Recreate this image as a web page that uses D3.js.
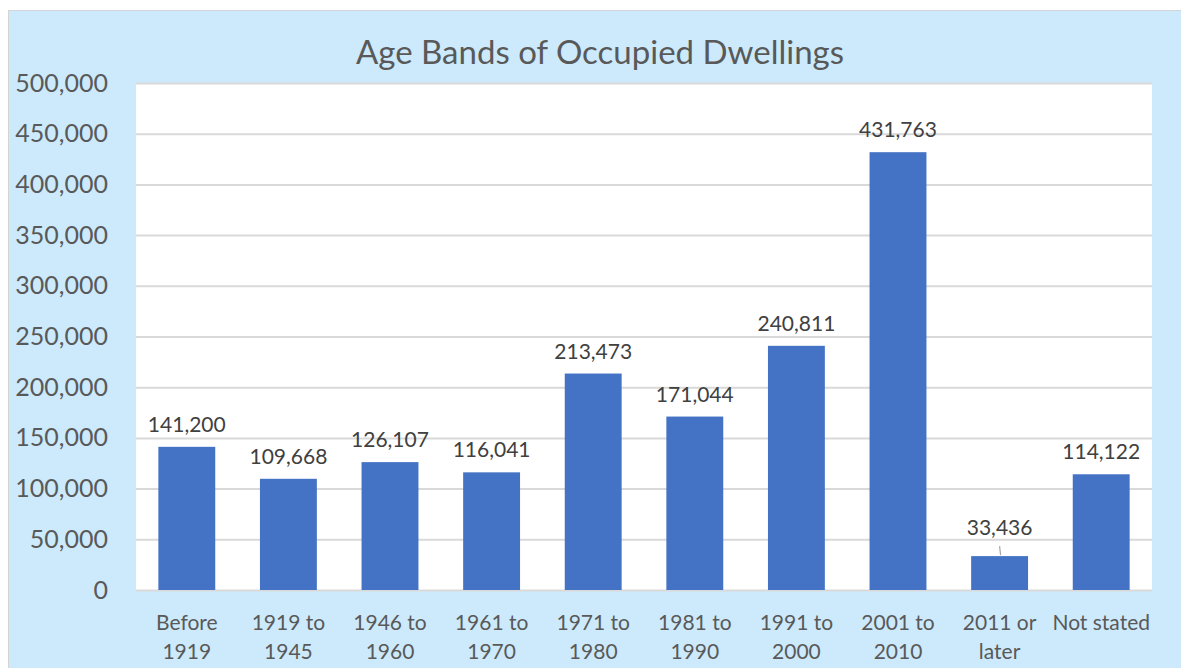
<!DOCTYPE html>
<html>
<head>
<meta charset="utf-8">
<script src="https://cdn.jsdelivr.net/npm/d3@7"></script>
<style>
  body { margin: 0; background: #ffffff; }
  svg { display: block; font-family: Lato, "Open Sans", sans-serif; }
</style>
</head>
<body>
<div id="chart"></div>
<script>
// data
var categories = ["Before 1919", "1919 to 1945", "1946 to 1960", "1961 to 1970", "1971 to 1980",
                  "1981 to 1990", "1991 to 2000", "2001 to 2010", "2011 or later", "Not stated"];
var catLines = [["Before", "1919"], ["1919 to", "1945"], ["1946 to", "1960"], ["1961 to", "1970"],
                ["1971 to", "1980"], ["1981 to", "1990"], ["1991 to", "2000"], ["2001 to", "2010"],
                ["2011 or", "later"], ["Not stated"]];
var dwellings = [141200, 109668, 126107, 116041, 213473, 171044, 240811, 431763, 33436, 114122];
var yTicks = [0, 50000, 100000, 150000, 200000, 250000, 300000, 350000, 400000, 450000, 500000];

var svgWidth = 1181, svgHeight = 668;
var margin = { top: 83, right: 29, bottom: 78, left: 136 };
var chartWidth = svgWidth - margin.left - margin.right;
var chartHeight = svgHeight - margin.top - margin.bottom;

var svg = d3.select("#chart").append("svg")
  .attr("width", svgWidth)
  .attr("height", svgHeight);

// light blue chart area with thin border
svg.append("rect")
  .attr("x", 8.5).attr("y", 10.5)
  .attr("width", svgWidth).attr("height", svgHeight)
  .attr("fill", "#cceafc")
  .attr("stroke", "#d4d4d4");

var chartGroup = svg.append("g")
  .attr("transform", `translate(${margin.left}, ${margin.top})`);

// white plot area
chartGroup.append("rect")
  .attr("width", chartWidth).attr("height", chartHeight)
  .attr("fill", "#ffffff");

var xScale = d3.scaleBand()
  .domain(categories)
  .range([0, chartWidth])
  .paddingInner(0.44)
  .paddingOuter(0.22);

var yScale = d3.scaleLinear()
  .domain([0, 500000])
  .range([chartHeight, 0]);

// gridlines
chartGroup.selectAll(".grid")
  .data(yTicks)
  .enter().append("line")
  .attr("x1", 0).attr("x2", chartWidth)
  .attr("y1", d => yScale(d) + 0.5).attr("y2", d => yScale(d) + 0.5)
  .attr("stroke", "#d9d9d9")
  .attr("stroke-width", 2);

// y axis labels
var leftAxis = d3.axisLeft(yScale)
  .tickValues(yTicks)
  .tickFormat(d3.format(","))
  .tickSize(0)
  .tickPadding(28);

var yAxisG = chartGroup.append("g").call(leftAxis);
yAxisG.select(".domain").remove();
yAxisG.selectAll("text")
  .attr("fill", "#595959")
  .style("font-size", "25px")
  .style("font-family", "Lato, sans-serif");

// bars
chartGroup.selectAll(".bar")
  .data(dwellings)
  .enter().append("rect")
  .attr("class", "bar")
  .attr("x", (d, i) => xScale(categories[i]))
  .attr("y", d => yScale(d))
  .attr("width", xScale.bandwidth())
  .attr("height", d => chartHeight - yScale(d))
  .attr("fill", "#4472c4");

// value labels (the small one was dragged up with a leader line)
var labelLift = dwellings.map(d => d < 50000 ? 6 : 0);

chartGroup.selectAll(".val")
  .data(dwellings)
  .enter().append("text")
  .attr("x", (d, i) => xScale(categories[i]) + xScale.bandwidth() / 2)
  .attr("y", (d, i) => yScale(d) - 15 - labelLift[i])
  .attr("text-anchor", "middle")
  .attr("fill", "#404040")
  .style("font-size", "21px")
  .text(d => d3.format(",")(d));

chartGroup.selectAll(".leader")
  .data(dwellings.filter(d => d < 50000))
  .enter().append("line")
  .attr("x1", d => xScale(categories[dwellings.indexOf(d)]) + xScale.bandwidth() / 2)
  .attr("x2", d => xScale(categories[dwellings.indexOf(d)]) + xScale.bandwidth() / 2 + 1)
  .attr("y1", d => yScale(d) - 10)
  .attr("y2", d => yScale(d) - 1)
  .attr("stroke", "#a6a6a6")
  .attr("stroke-width", 1.2);

// category labels
var catG = chartGroup.selectAll(".cat")
  .data(catLines)
  .enter().append("text")
  .attr("text-anchor", "middle")
  .attr("fill", "#595959")
  .style("font-size", "21px")
  .attr("transform", (d, i) => `translate(${xScale(categories[i]) + xScale.bandwidth() / 2}, ${chartHeight + 40})`);

catG.selectAll("tspan")
  .data(d => d)
  .enter().append("tspan")
  .attr("x", 0)
  .attr("dy", (d, i) => i === 0 ? 0 : 29)
  .text(d => d);

// title
svg.append("text")
  .attr("x", 600)
  .attr("y", 64)
  .attr("text-anchor", "middle")
  .attr("fill", "#595959")
  .style("font-size", "33px")
  .text("Age Bands of Occupied Dwellings");
</script>
</body>
</html>
